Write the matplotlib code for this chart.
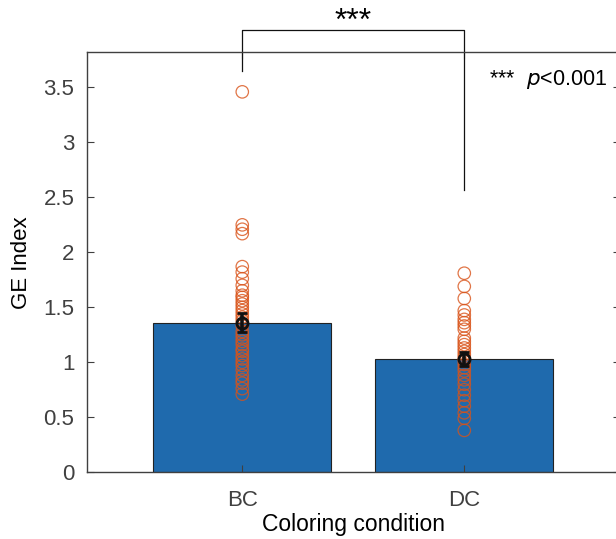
import matplotlib.pyplot as plt
import numpy as np

plt.rcParams['font.family'] = ['Liberation Sans', 'DejaVu Sans']

conditions = ['BC', 'DC']
mean_ge = [1.36, 1.03]
sem_ge = [0.085, 0.06]

bc_points = [3.46, 2.25, 2.21, 2.17, 1.87, 1.82, 1.76, 1.70, 1.65, 1.61, 1.59,
             1.56, 1.53, 1.50, 1.47, 1.44, 1.41, 1.38, 1.33, 1.28, 1.25, 1.22,
             1.19, 1.16, 1.12, 1.10, 1.06, 1.03, 1.00, 0.97, 0.93, 0.88, 0.84,
             0.81, 0.76, 0.71]
dc_points = [1.81, 1.69, 1.58, 1.47, 1.43, 1.39, 1.36, 1.33, 1.30, 1.22, 1.19,
             1.16, 1.13, 1.10, 1.07, 1.04, 1.01, 0.98, 0.95, 0.92, 0.88, 0.84,
             0.80, 0.75, 0.70, 0.65, 0.60, 0.54, 0.49, 0.38]

x = np.arange(1, len(conditions) + 1)
gray = '#404040'

fig = plt.figure(figsize=(6.16, 5.39), dpi=100)
ax = fig.add_axes([0.141, 0.124, 0.865, 0.779])

ax.bar(x, mean_ge, width=0.8, color='#1f6aad', edgecolor='#222222', linewidth=0.8, zorder=1)

for xi, pts in zip(x, [bc_points, dc_points]):
    ax.scatter(np.full(len(pts), xi), pts, s=80, facecolors='none',
               edgecolors='#d95319', linewidths=0.9, alpha=0.8, zorder=2)

ax.errorbar(x, mean_ge, yerr=sem_ge, fmt='o', color='#111111', mfc='none',
            markersize=8, capsize=3.5, elinewidth=2.6, capthick=2.6, mew=2.0, zorder=3)

# significance bracket between the two conditions
ax.plot([1, 1, 2, 2], [3.65, 4.02, 4.02, 2.57], color='#111111', lw=0.9, clip_on=False)
ax.text(1.5, 3.96, '***', ha='center', va='bottom', fontsize=23)
ax.text(2.11, 3.57, '***  $\\it{p}$<0.001', ha='left', va='center', fontsize=15.5)

ax.set_xlim(0.3, 2.7)
ax.set_ylim(0, 3.82)
ax.set_xticks(x)
ax.set_xticklabels(conditions)
ax.set_yticks(np.arange(0, 3.6, 0.5))
ax.set_yticklabels(['0', '0.5', '1', '1.5', '2', '2.5', '3', '3.5'])
ax.tick_params(direction='in', length=5, labelsize=16, colors=gray, labelcolor=gray,
               top=True, right=True, width=0.8)
ax.tick_params(axis='x', pad=13)
ax.tick_params(axis='y', pad=9)
for s in ax.spines.values():
    s.set_color(gray)
    s.set_linewidth(1.0)

ax.set_xlabel('Coloring condition', fontsize=16.5, labelpad=1)
ax.set_ylabel('GE Index', fontsize=16, labelpad=8)

fig.savefig('out.png', dpi=100)
